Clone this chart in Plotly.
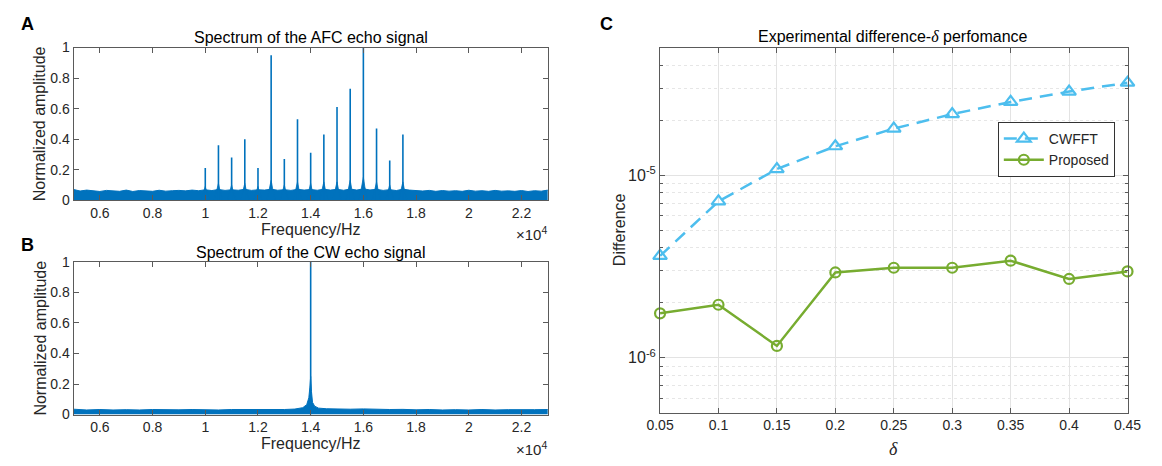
import plotly.graph_objects as go

# ---------------- data ----------------
# Panel A: AFC echo spectrum (frequency in Hz, normalized amplitude)
afc_peak_freq = [10000, 10500, 11000, 11500, 12000, 12500, 13000, 13500,
                 14000, 14500, 15000, 15500, 16000, 16500, 17000, 17500]
afc_peak_amp = [0.21, 0.36, 0.28, 0.40, 0.21, 0.95, 0.27, 0.53,
                0.31, 0.43, 0.61, 0.73, 1.00, 0.47, 0.26, 0.43]
afc_skirt_amp = [0.09, 0.11, 0.10, 0.11, 0.09, 0.13, 0.10, 0.12,
                 0.11, 0.12, 0.12, 0.13, 0.15, 0.12, 0.10, 0.12]
afc_noise_freq = [5000 + 250 * i for i in range(73)]
afc_noise_amp = [0.070, 0.060, 0.066, 0.062, 0.057, 0.064, 0.061, 0.058, 0.066, 0.057,
                 0.063, 0.059, 0.058, 0.065, 0.059, 0.062, 0.064, 0.061, 0.066, 0.062,
                 0.068, 0.063, 0.070, 0.064, 0.068, 0.065, 0.071, 0.064, 0.068, 0.066,
                 0.072, 0.065, 0.069, 0.064, 0.071, 0.066, 0.070, 0.065, 0.072, 0.066,
                 0.071, 0.065, 0.073, 0.066, 0.074, 0.067, 0.071, 0.064, 0.069, 0.063,
                 0.072, 0.066, 0.062, 0.060, 0.064, 0.058, 0.063, 0.059, 0.062, 0.058,
                 0.065, 0.059, 0.062, 0.058, 0.064, 0.059, 0.061, 0.058, 0.063, 0.057,
                 0.062, 0.059, 0.066]

# Panel B: CW echo spectrum
cw_peak_freq = [14000]
cw_peak_amp = [1.00]
cw_noise_freq = [5000, 5500, 6000, 6500, 7000, 7500, 8000, 8500, 9000, 9500, 10000,
                 10500, 11000, 11500, 12000, 12500, 13000, 13400, 13700, 13850,
                 13930, 13970, 14000, 14030, 14070, 14150, 14300, 14600, 15000,
                 15500, 16000, 16500, 17000, 17500, 18000, 18500, 19000, 19500,
                 20000, 20500, 21000, 21500, 22000, 22500, 23000]
cw_noise_amp = [0.035, 0.030, 0.033, 0.030, 0.032, 0.030, 0.033, 0.030, 0.031, 0.033, 0.031,
                0.030, 0.033, 0.032, 0.031, 0.034, 0.033, 0.036, 0.045, 0.065,
                0.110, 0.180, 0.250, 0.150, 0.080, 0.055, 0.042, 0.038, 0.036,
                0.035, 0.037, 0.034, 0.033, 0.034, 0.031, 0.033, 0.030, 0.032,
                0.030, 0.033, 0.030, 0.032, 0.030, 0.032, 0.033]

freq_tickvals = [6000, 8000, 10000, 12000, 14000, 16000, 18000, 20000, 22000]
freq_ticktext = ["0.6", "0.8", "1", "1.2", "1.4", "1.6", "1.8", "2", "2.2"]
amp_tickvals = [0, 0.2, 0.4, 0.6, 0.8, 1]
amp_ticktext = ["0", "0.2", "0.4", "0.6", "0.8", "1"]

# Panel C: difference vs delta
delta = [0.05, 0.10, 0.15, 0.20, 0.25, 0.30, 0.35, 0.40, 0.45]
cwfft = [3.61e-6, 7.18e-6, 1.08e-5, 1.44e-5, 1.80e-5, 2.16e-5, 2.52e-5, 2.87e-5, 3.21e-5]
proposed = [1.75e-6, 1.95e-6, 1.16e-6, 2.93e-6, 3.11e-6, 3.11e-6, 3.40e-6, 2.70e-6, 2.97e-6]
delta_ticktext = ["0.05", "0.1", "0.15", "0.2", "0.25", "0.3", "0.35", "0.4", "0.45"]
diff_tickvals = [1e-6, 1e-5]
diff_ticktext = ["10<sup>-6</sup>", "10<sup>-5</sup>"]
diff_minor = [6e-7, 7e-7, 8e-7, 9e-7, 2e-6, 3e-6, 4e-6, 5e-6, 6e-6, 7e-6, 8e-6, 9e-6,
              2e-5, 3e-5, 4e-5]

# ---------------- styling ----------------
W, H = 1162, 466
FONT = "Liberation Sans, Arial, Helvetica, sans-serif"
AXC = "#5a5a5a"
TXT = "#262626"
BLUE = "#0072BD"
TICK_FS = 14
LAB_FS = 16


def px(x):
    return x / W


def py(y):
    return 1 - y / H


def stems(freqs, amps):
    xs, ys = [], []
    for f, a in zip(freqs, amps):
        xs += [f, f, None]
        ys += [0, a, None]
    return xs, ys


def skirts(freqs, amps, half=160):
    xs, ys = [], []
    for f, a in zip(freqs, amps):
        xs += [f - half, f - half / 3, f, f + half / 3, f + half, None]
        ys += [0, a * 0.6, a, a * 0.6, 0, None]
    return xs, ys


fig = go.Figure()

# Panel A
fig.add_trace(go.Scatter(x=afc_noise_freq, y=afc_noise_amp, mode="lines", fill="tozeroy",
                         line=dict(color=BLUE, width=1), fillcolor=BLUE,
                         showlegend=False, xaxis="x", yaxis="y"))
kx, ky = skirts(afc_peak_freq, afc_skirt_amp)
fig.add_trace(go.Scatter(x=kx, y=ky, mode="lines", fill="toself", fillcolor=BLUE,
                         line=dict(color=BLUE, width=0.8),
                         showlegend=False, xaxis="x", yaxis="y"))
sx, sy = stems(afc_peak_freq, afc_peak_amp)
fig.add_trace(go.Scatter(x=sx, y=sy, mode="lines", line=dict(color=BLUE, width=1.6),
                         showlegend=False, xaxis="x", yaxis="y"))

# Panel B
fig.add_trace(go.Scatter(x=cw_noise_freq, y=cw_noise_amp, mode="lines", fill="tozeroy",
                         line=dict(color=BLUE, width=1), fillcolor=BLUE,
                         showlegend=False, xaxis="x2", yaxis="y2"))
sx, sy = stems(cw_peak_freq, cw_peak_amp)
fig.add_trace(go.Scatter(x=sx, y=sy, mode="lines", line=dict(color=BLUE, width=1.6),
                         showlegend=False, xaxis="x2", yaxis="y2"))

# Panel C
fig.add_trace(go.Scatter(x=delta, y=cwfft, mode="lines+markers", name="CWFFT",
                         line=dict(color="#4DBEEE", width=2.5, dash="13px,8px"),
                         marker=dict(symbol="triangle-up-open", size=12,
                                     line=dict(color="#4DBEEE", width=2.2)),
                         cliponaxis=False, xaxis="x3", yaxis="y3"))
fig.add_trace(go.Scatter(x=delta, y=proposed, mode="lines+markers", name="Proposed",
                         line=dict(color="#77AC30", width=2.5),
                         marker=dict(symbol="circle-open", size=10,
                                     line=dict(color="#77AC30", width=2.2)),
                         cliponaxis=False, xaxis="x3", yaxis="y3"))

common_axis = dict(showline=True, linecolor=AXC, linewidth=1, mirror="ticks",
                   ticks="inside", ticklen=5, tickcolor=AXC,
                   tickfont=dict(family=FONT, size=TICK_FS, color=TXT),
                   showgrid=False, zeroline=False)

fig.update_layout(
    width=W, height=H,
    margin=dict(l=0, r=0, t=0, b=0),
    paper_bgcolor="white", plot_bgcolor="white",
    font=dict(family=FONT, size=13, color=TXT),
    xaxis=dict(domain=[px(61), px(547)], range=[5000, 23000], anchor="y",
               tickvals=freq_tickvals, ticktext=freq_ticktext, **common_axis),
    yaxis=dict(domain=[py(199), py(41)], range=[0, 1], anchor="x",
               tickvals=amp_tickvals, ticktext=amp_ticktext, **common_axis),
    xaxis2=dict(domain=[px(61), px(547)], range=[5000, 23000], anchor="y2",
                tickvals=freq_tickvals, ticktext=freq_ticktext, **common_axis),
    yaxis2=dict(domain=[py(421), py(263)], range=[0, 1], anchor="x2",
                tickvals=amp_tickvals, ticktext=amp_ticktext, **common_axis),
    xaxis3=dict(domain=[px(662), px(1141)], range=[0.05, 0.45], anchor="y3",
                tickvals=delta, ticktext=delta_ticktext,
                **{**common_axis, "showgrid": True}, gridcolor="#e3e3e3", gridwidth=1),
    yaxis3=dict(domain=[py(419), py(41)], type="log", range=[-6.301, -4.301], anchor="x3",
                tickvals=diff_tickvals, ticktext=diff_ticktext,
                **{**common_axis, "showgrid": True,
                   "tickfont": dict(family=FONT, size=16, color=TXT)},
                gridcolor="#e3e3e3", gridwidth=1,
                minor=dict(tickmode="array", tickvals=diff_minor, ticks="inside", ticklen=3,
                           tickcolor=AXC, showgrid=True, gridcolor="#e6e6e6",
                           griddash="dot", gridwidth=1)),
    legend=dict(x=px(1128), y=py(118), xanchor="right", yanchor="top",
                bgcolor="white", bordercolor="#333333", borderwidth=1,
                font=dict(family=FONT, size=14, color=TXT),
                itemwidth=40, tracegroupgap=0),
)

delta_i = "<span style=\"font-family:'Liberation Serif',serif;font-style:italic\">δ</span>"

annotations = [
    # panel letters
    dict(x=px(14), y=py(17), text="<b>A</b>", font=dict(size=18, color="black")),
    dict(x=px(14), y=py(245), text="<b>B</b>", font=dict(size=18, color="black")),
    dict(x=px(607), y=py(17), text="<b>C</b>", font=dict(size=18, color="black")),
    # titles
    dict(x=px(304), y=py(31), text="Spectrum of the AFC echo signal",
         font=dict(size=LAB_FS, color="black")),
    dict(x=px(304), y=py(253), text="Spectrum of the CW echo signal",
         font=dict(size=LAB_FS, color="black")),
    dict(x=px(901), y=py(30), text="Experimental difference-" + delta_i + " perfomance",
         font=dict(size=LAB_FS, color="black")),
    # x labels
    dict(x=px(304), y=py(229), text="Frequency/Hz", font=dict(size=LAB_FS, color=TXT)),
    dict(x=px(304), y=py(451), text="Frequency/Hz", font=dict(size=LAB_FS, color=TXT)),
    dict(x=px(901), y=py(457), text=delta_i, font=dict(size=18, color=TXT)),
    dict(x=px(530), y=py(233), text="×10<sup>4</sup>", font=dict(size=15, color=TXT)),
    dict(x=px(530), y=py(456), text="×10<sup>4</sup>", font=dict(size=15, color=TXT)),
    # y labels
    dict(x=px(27), y=py(120), text="Normalized amplitude", textangle=-90,
         font=dict(size=LAB_FS, color=TXT)),
    dict(x=px(27), y=py(342), text="Normalized amplitude", textangle=-90,
         font=dict(size=LAB_FS, color=TXT)),
    dict(x=px(620), y=py(230), text="Difference", textangle=-90,
         font=dict(size=LAB_FS, color=TXT)),
]
for a in annotations:
    a.update(xref="paper", yref="paper", showarrow=False, xanchor="center", yanchor="middle")
    a["font"]["family"] = FONT
fig.update_layout(annotations=annotations)

fig.write_html("out.html")
